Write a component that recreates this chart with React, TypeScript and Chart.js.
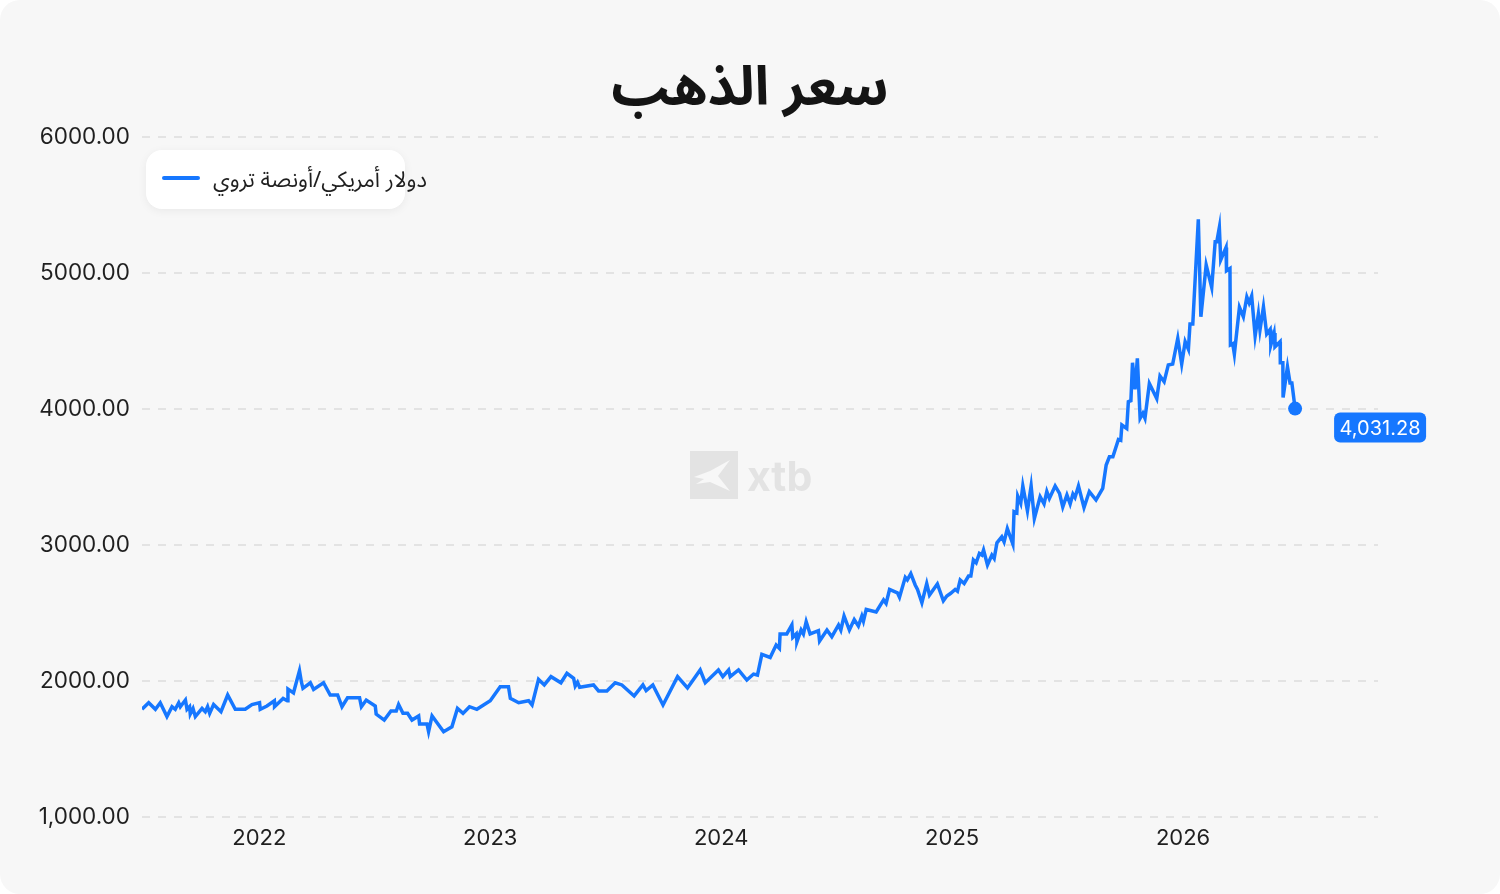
import React, { useEffect, useRef } from 'react';
import { Chart, registerables } from 'chart.js';

Chart.register(...registerables);

const TITLE = 'سعر الذهب';
const SERIES_LABEL = 'دولار أمريكي/أونصة تروي';
const LAST_LABEL = '4,031.28';
const LINE_COLOR = '#1677ff';

// decimal years
const dates = [
  2021.492, 2021.521, 2021.55, 2021.571, 2021.6, 2021.622, 2021.636, 2021.651, 2021.658, 2021.68,
  2021.687, 2021.698, 2021.701, 2021.713, 2021.723, 2021.752, 2021.766, 2021.776, 2021.785, 2021.802,
  2021.834, 2021.863, 2021.896, 2021.939, 2021.968, 2022.001, 2022.004, 2022.033, 2022.065, 2022.066,
  2022.103, 2022.121, 2022.124, 2022.148, 2022.174, 2022.182, 2022.189, 2022.221, 2022.235, 2022.278,
  2022.307, 2022.339, 2022.358, 2022.382, 2022.434, 2022.442, 2022.463, 2022.502, 2022.506, 2022.541,
  2022.57, 2022.593, 2022.603, 2022.622, 2022.642, 2022.661, 2022.69, 2022.694, 2022.726, 2022.733,
  2022.748, 2022.798, 2022.834, 2022.858, 2022.882, 2022.91, 2022.942, 2023.0, 2023.043, 2023.079,
  2023.087, 2023.123, 2023.166, 2023.181, 2023.209, 2023.234, 2023.263, 2023.306, 2023.332, 2023.361,
  2023.368, 2023.378, 2023.387, 2023.447, 2023.469, 2023.505, 2023.541, 2023.57, 2023.623, 2023.661,
  2023.675, 2023.704, 2023.748, 2023.811, 2023.854, 2023.909, 2023.931, 2023.988, 2024.007, 2024.032,
  2024.039, 2024.075, 2024.111, 2024.14, 2024.157, 2024.176, 2024.212, 2024.238, 2024.252, 2024.255,
  2024.284, 2024.306, 2024.31, 2024.325, 2024.328, 2024.346, 2024.356, 2024.368, 2024.385, 2024.421,
  2024.426, 2024.458, 2024.479, 2024.508, 2024.518, 2024.532, 2024.555, 2024.576, 2024.594, 2024.609,
  2024.616, 2024.628, 2024.671, 2024.703, 2024.714, 2024.729, 2024.763, 2024.772, 2024.797, 2024.806,
  2024.821, 2024.84, 2024.85, 2024.869, 2024.89, 2024.902, 2024.936, 2024.962, 2024.977, 2024.994,
  2025.013, 2025.023, 2025.035, 2025.052, 2025.071, 2025.081, 2025.092, 2025.104, 2025.118, 2025.129,
  2025.136, 2025.153, 2025.172, 2025.182, 2025.194, 2025.215, 2025.225, 2025.239, 2025.263, 2025.268,
  2025.28, 2025.284, 2025.297, 2025.306, 2025.326, 2025.342, 2025.356, 2025.381, 2025.398, 2025.41,
  2025.421, 2025.446, 2025.465, 2025.479, 2025.497, 2025.511, 2025.523, 2025.532, 2025.547, 2025.571,
  2025.594, 2025.623, 2025.652, 2025.667, 2025.681, 2025.696, 2025.72, 2025.73, 2025.735, 2025.756,
  2025.763, 2025.774, 2025.781, 2025.792, 2025.802, 2025.814, 2025.826, 2025.835, 2025.854, 2025.886,
  2025.9, 2025.918, 2025.936, 2025.955, 2025.977, 2025.994, 2026.009, 2026.023, 2026.03, 2026.042,
  2026.066, 2026.077, 2026.1, 2026.124, 2026.139, 2026.146, 2026.157, 2026.163, 2026.186, 2026.188,
  2026.203, 2026.205, 2026.215, 2026.222, 2026.244, 2026.261, 2026.276, 2026.286, 2026.297, 2026.312,
  2026.326, 2026.333, 2026.348, 2026.362, 2026.377, 2026.38, 2026.394, 2026.398, 2026.42, 2026.421,
  2026.432, 2026.433, 2026.452, 2026.463, 2026.471, 2026.485,
];

// USD per troy ounce
const prices = [
  1792, 1840, 1792, 1840, 1738, 1811, 1792, 1840, 1811, 1860,
  1792, 1811, 1757, 1798, 1738, 1798, 1774, 1811, 1762, 1827,
  1774, 1897, 1792, 1792, 1827, 1840, 1792, 1816, 1855, 1811,
  1872, 1855, 1941, 1913, 2076, 1995, 1946, 1987, 1938, 1987,
  1897, 1897, 1811, 1877, 1877, 1811, 1860, 1816, 1757, 1713,
  1779, 1779, 1827, 1762, 1762, 1713, 1743, 1684, 1684, 1627,
  1743, 1627, 1663, 1798, 1762, 1811, 1792, 1855, 1957, 1957,
  1872, 1840, 1855, 1824, 2012, 1971, 2032, 1987, 2056, 2020,
  1963, 1990, 1954, 1971, 1927, 1927, 1987, 1971, 1890, 1971,
  1929, 1971, 1824, 2032, 1949, 2081, 1987, 2081, 2032, 2081,
  2032, 2081, 2007, 2051, 2044, 2196, 2173, 2265, 2240, 2346,
  2346, 2412, 2321, 2346, 2288, 2375, 2346, 2436, 2346, 2370,
  2294, 2375, 2326, 2412, 2375, 2478, 2375, 2452, 2404, 2478,
  2440, 2526, 2508, 2596, 2570, 2673, 2648, 2615, 2762, 2743,
  2790, 2706, 2673, 2575, 2717, 2632, 2713, 2590, 2625, 2645,
  2673, 2660, 2743, 2717, 2772, 2772, 2890, 2869, 2938, 2926,
  2963, 2853, 2926, 2901, 3016, 3060, 3023, 3121, 3007, 3245,
  3236, 3360, 3306, 3434, 3251, 3434, 3195, 3355, 3302, 3393,
  3342, 3434, 3379, 3280, 3368, 3302, 3375, 3350, 3434, 3276,
  3393, 3331, 3416, 3588, 3648, 3648, 3776, 3770, 3882, 3857,
  4054, 4061, 4340, 4144, 4373, 3932, 3969, 3932, 4188, 4077,
  4243, 4201, 4324, 4331, 4520, 4331, 4495, 4439, 4625, 4625,
  5395, 4678, 5059, 4894, 5230, 5230, 5335, 5096, 5188, 5016,
  5033, 4471, 4480, 4404, 4748, 4678, 4824, 4780, 4831, 4537,
  4699, 4581, 4751, 4551, 4585, 4471, 4559, 4457, 4495, 4340,
  4340, 4085, 4310, 4192, 4192, 4003,
];

const xTickValues = [2022, 2023, 2024, 2025, 2026];
const xTickLabels = ['2022', '2023', '2024', '2025', '2026'];
const yTickValues = [1000, 2000, 3000, 4000, 5000, 6000];
const yTickLabels = ['1,000.00', '2000.00', '3000.00', '4000.00', '5000.00', '6000.00'];

const X_MIN = 2021.492;
const X_MAX = 2026.844;

const overlayPlugin = {
  id: 'overlay',
  beforeDatasetsDraw(chart: any) {
    const { ctx, chartArea } = chart;
    const cx = chart.width / 2;
    const cy = (chartArea.top + chartArea.bottom) / 2;
    ctx.save();
    const bx = cx - 60;
    const by = cy - 26;
    ctx.fillStyle = '#e3e3e3';
    ctx.fillRect(bx, by, 48, 48);
    ctx.fillStyle = '#f7f7f7';
    ctx.beginPath();
    ctx.moveTo(bx + 4, by + 26);
    ctx.lineTo(bx + 20, by + 20);
    ctx.lineTo(bx + 40, by + 9);
    ctx.lineTo(bx + 28, by + 25);
    ctx.lineTo(bx + 40, by + 40);
    ctx.lineTo(bx + 20, by + 31);
    ctx.lineTo(bx + 6, by + 33);
    ctx.lineTo(bx + 14, by + 28);
    ctx.closePath();
    ctx.fill();
    ctx.fillStyle = '#e3e3e3';
    ctx.font = 'bold 41px Inter, "DejaVu Sans", sans-serif';
    ctx.textAlign = 'left';
    ctx.textBaseline = 'alphabetic';
    ctx.fillText('xtb', cx - 3, cy + 14);
    ctx.restore();
  },
  afterDatasetsDraw(chart: any) {
    const { ctx } = chart;
    const meta = chart.getDatasetMeta(0);
    const pt = meta.data[meta.data.length - 1];
    if (!pt) return;
    const x = pt.x + 39;
    const y = pt.y + 4;
    const w = 92;
    const h = 30;
    ctx.save();
    ctx.fillStyle = LINE_COLOR;
    ctx.beginPath();
    ctx.roundRect(x, y, w, h, 6);
    ctx.fill();
    ctx.fillStyle = '#ffffff';
    ctx.font = '20px Inter, "DejaVu Sans", sans-serif';
    ctx.textAlign = 'center';
    ctx.textBaseline = 'middle';
    ctx.fillText(LAST_LABEL, x + w / 2, y + h / 2 + 1);
    ctx.restore();
  },
};

export default function App() {
  const canvasRef = useRef<HTMLCanvasElement | null>(null);

  useEffect(() => {
    document.body.style.margin = '0';
    const canvas = canvasRef.current;
    if (!canvas) return;
    const points = dates.map((d, i) => ({ x: d, y: prices[i] }));
    const lastIndex = points.length - 1;
    const chart = new Chart(canvas, {
      type: 'line',
      data: {
        datasets: [
          {
            label: SERIES_LABEL,
            data: points,
            borderColor: LINE_COLOR,
            backgroundColor: LINE_COLOR,
            borderWidth: 3.5,
            tension: 0,
            pointRadius: (c: any) => (c.dataIndex === lastIndex ? 7 : 0),
            pointHoverRadius: 0,
            pointBackgroundColor: LINE_COLOR,
            pointBorderWidth: 0,
            borderJoinStyle: 'miter',
          } as any,
        ],
      },
      options: {
        animation: false,
        responsive: false,
        devicePixelRatio: 1,
        layout: { padding: { top: 137, left: 0, right: 122, bottom: 0 } },
        plugins: {
          legend: { display: false },
          title: { display: false },
          tooltip: { enabled: false },
        },
        scales: {
          x: {
            type: 'linear',
            min: X_MIN,
            max: X_MAX,
            grid: { display: false, drawTicks: false },
            border: { display: false },
            afterFit: (scale: any) => {
              scale.height = 77;
            },
            afterBuildTicks: (scale: any) => {
              scale.ticks = xTickValues.map((v) => ({ value: v }));
            },
            ticks: {
              padding: 8,
              autoSkip: false,
              maxRotation: 0,
              color: '#1f1f1f',
              font: { family: 'Inter, "DejaVu Sans", sans-serif', size: 22 },
              callback: (v: any) => {
                const i = xTickValues.indexOf(Number(v));
                return i >= 0 ? xTickLabels[i] : '';
              },
            },
          },
          y: {
            type: 'linear',
            min: 1000,
            max: 6000,
            grid: {
              color: '#e3e3e3',
              lineWidth: 2,
              drawTicks: false,
            },
            border: { display: false, dash: [8, 8] },
            afterFit: (scale: any) => {
              scale.width = 142;
            },
            afterBuildTicks: (scale: any) => {
              scale.ticks = yTickValues.map((v) => ({ value: v }));
            },
            ticks: {
              padding: 12,
              color: '#1f1f1f',
              font: { family: 'Inter, "DejaVu Sans", sans-serif', size: 22.5 },
              callback: (v: any) => {
                const i = yTickValues.indexOf(Number(v));
                return i >= 0 ? yTickLabels[i] : '';
              },
            },
          },
        },
      } as any,
      plugins: [overlayPlugin],
    });
    return () => chart.destroy();
  }, []);

  const arabicFont = '"Noto Sans Arabic", "Noto Sans", "DejaVu Sans", sans-serif';

  return (
    <div style={{ position: 'fixed', left: 0, top: 0, width: 1500, height: 894, background: '#ffffff' }}>
      <div
        style={{
          position: 'absolute',
          left: 0,
          top: 0,
          width: 1500,
          height: 894,
          background: '#f7f7f7',
          borderRadius: 20,
          overflow: 'hidden',
        }}
      >
        <canvas ref={canvasRef} width={1500} height={894} style={{ position: 'absolute', left: 0, top: 0, width: 1500, height: 894 }} />
        <div
          dir="rtl"
          style={{
            position: 'absolute',
            left: 0,
            top: 51,
            width: 1500,
            textAlign: 'center',
            fontFamily: arabicFont,
            fontWeight: 'bold',
            fontSize: 54,
            lineHeight: '74px',
            color: '#141414',
          }}
        >
          {TITLE}
        </div>
        <div
          style={{
            position: 'absolute',
            left: 146,
            top: 150,
            width: 259,
            height: 59,
            background: '#ffffff',
            borderRadius: 16,
            boxShadow: '0 2px 10px rgba(0,0,0,0.06)',
          }}
        />
        <div
          style={{
            position: 'absolute',
            left: 162,
            top: 176,
            width: 38,
            height: 4,
            borderRadius: 2,
            background: LINE_COLOR,
          }}
        />
        <div
          dir="rtl"
          style={{
            position: 'absolute',
            left: 213,
            top: 165,
            whiteSpace: 'nowrap',
            fontFamily: arabicFont,
            fontSize: 22,
            lineHeight: '30px',
            color: '#1f1f1f',
          }}
        >
          {SERIES_LABEL}
        </div>
      </div>
    </div>
  );
}
